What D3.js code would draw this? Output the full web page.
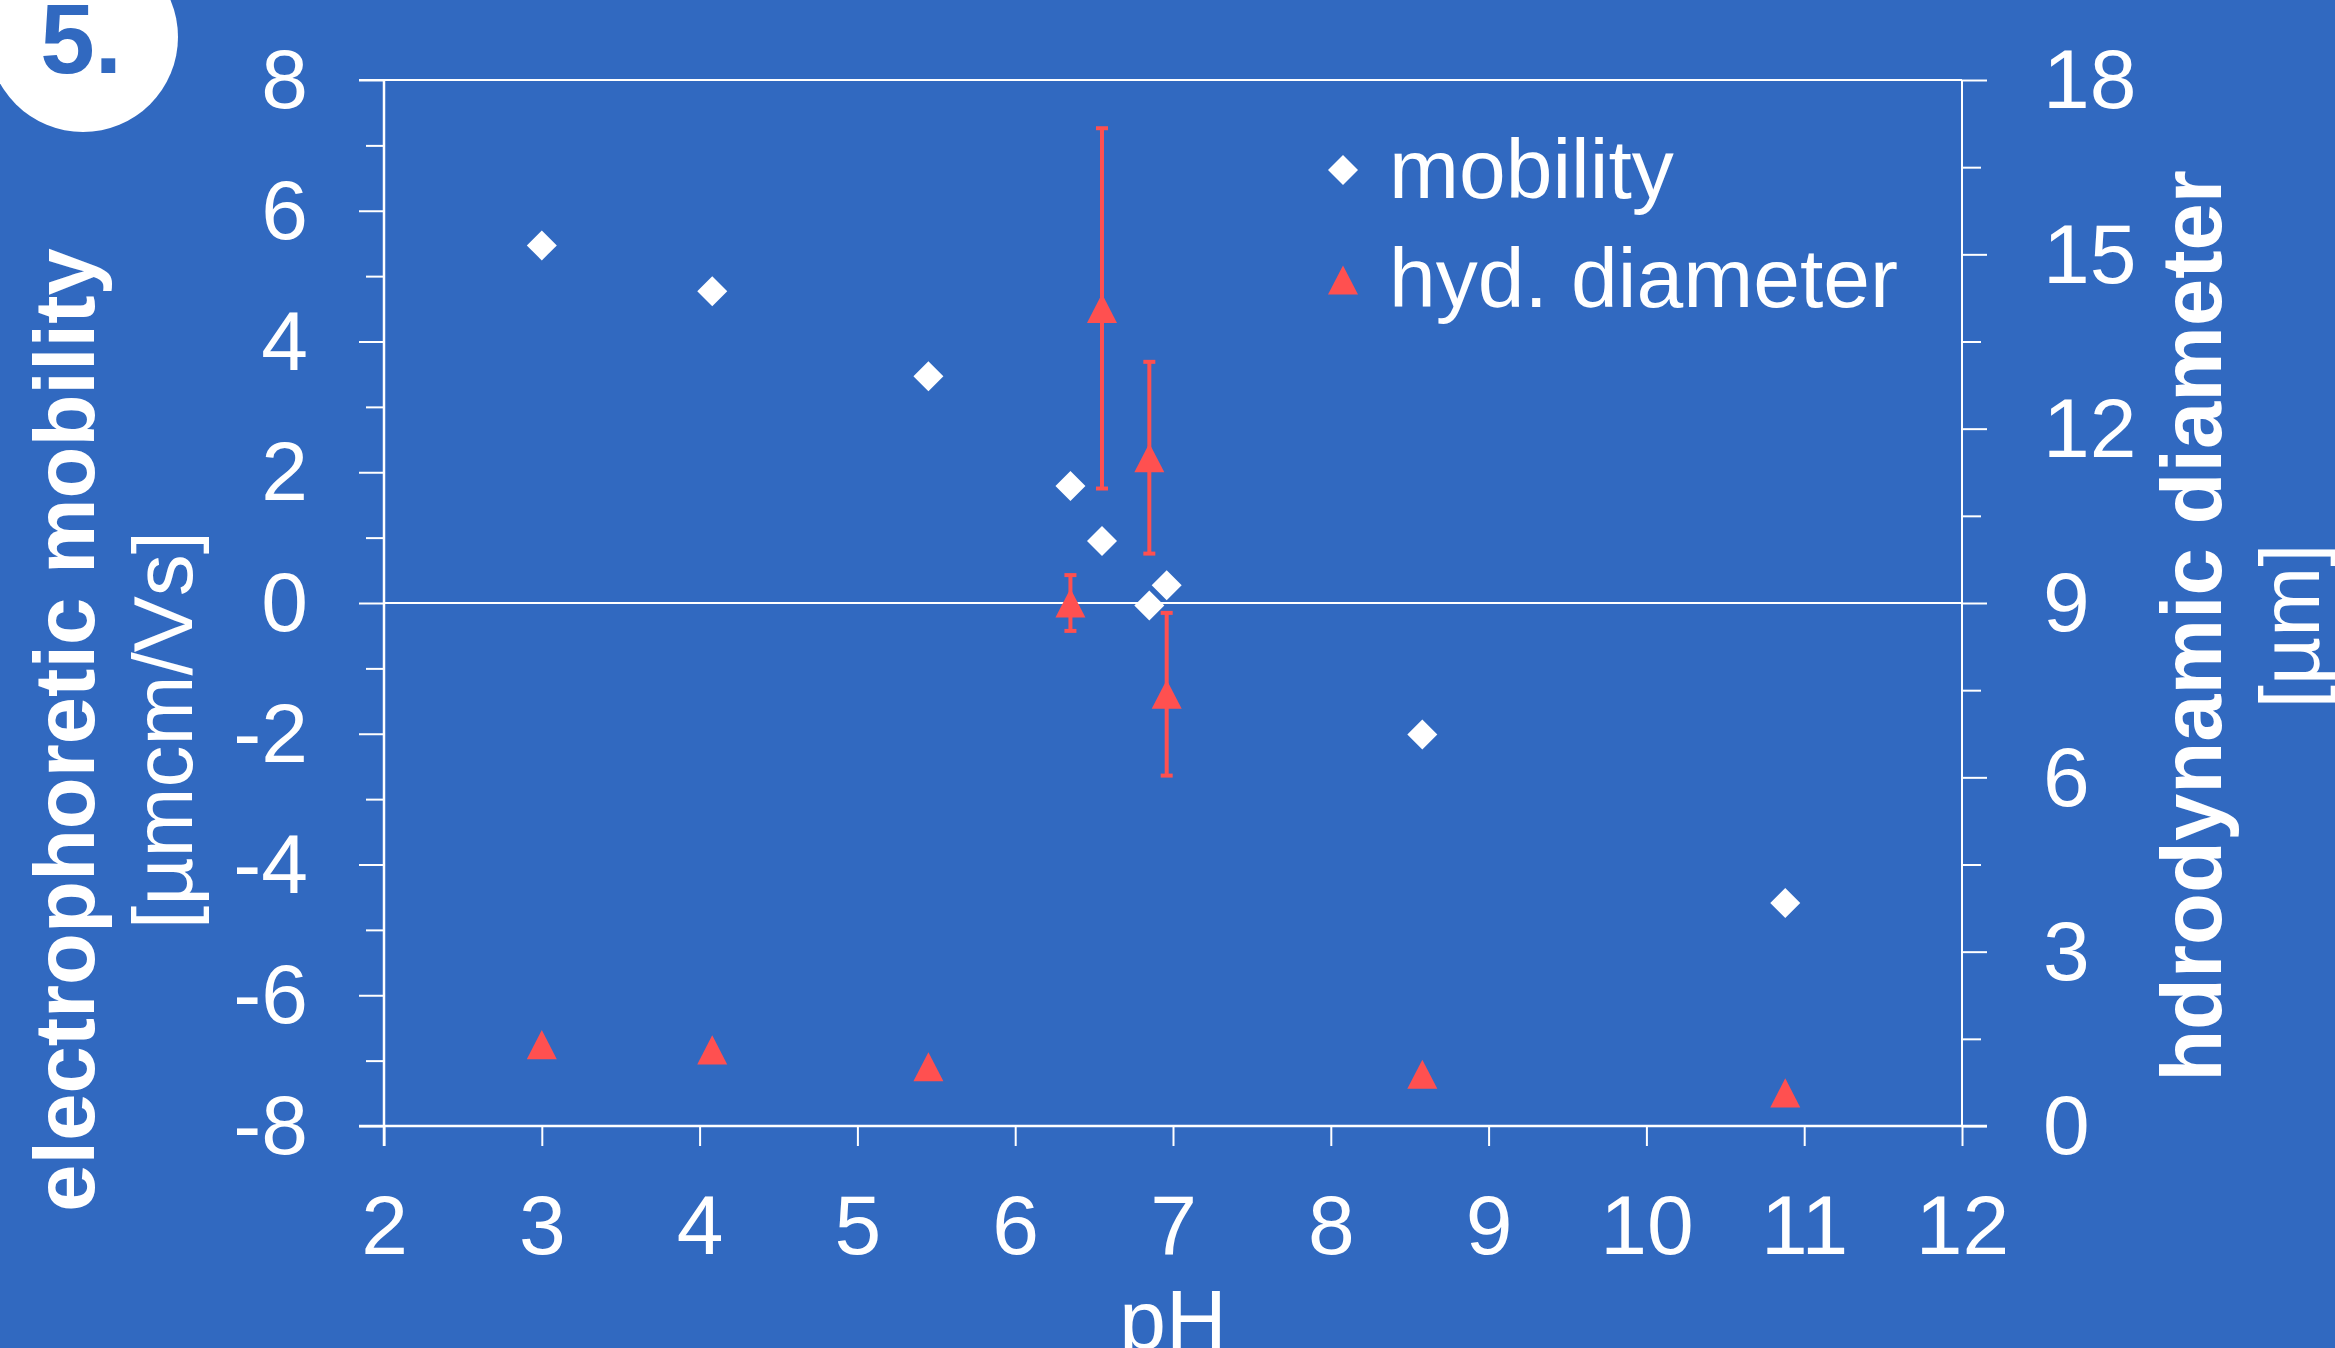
<!DOCTYPE html>
<html><head><meta charset="utf-8">
<script src="https://cdn.jsdelivr.net/npm/d3@7"></script>
<style>html,body{margin:0;padding:0;background:#3169C0;}svg{display:block;}</style>
</head><body>
<svg id="chart" width="2335" height="1348"></svg>
<script>
// ---- data ----
const pH = [3.0, 4.08, 5.45, 6.35, 6.55, 6.85, 6.96, 8.58, 10.88];
const mobility = [5.47, 4.77, 3.47, 1.79, 0.95, -0.04, 0.27, -2.01, -4.59];
const hydDiameter = [1.4, 1.31, 1.02, 9.0, 14.07, 11.5, 7.43, 0.89, 0.57];
const hydError = [0, 0, 0, 0.48, 3.1, 1.65, 1.4, 0, 0];
const xTicks = [2, 3, 4, 5, 6, 7, 8, 9, 10, 11, 12];
const yLeftTicks = [-8, -6, -4, -2, 0, 2, 4, 6, 8];
const yRightTicks = [0, 3, 6, 9, 12, 15, 18];
const seriesNames = ["mobility", "hyd. diameter"];

const BG = "#3169C0", RED = "#FF5050", WHITE = "#FFFFFF";
const FONT = "'Liberation Sans', Arial, sans-serif";

const svg = d3.select("#chart");
svg.append("rect").attr("width", 2335).attr("height", 1348).attr("fill", BG);

const L = 384, R = 1962, T = 80, B = 1126;
const x = d3.scaleLinear().domain([2, 12]).range([L, R]);
const yL = d3.scaleLinear().domain([-8, 8]).range([B, T]);
const yR = d3.scaleLinear().domain([0, 18]).range([B, T]);

// ---- axes ----
const axX = d3.axisBottom(x).tickValues(xTicks).tickSize(20).tickPadding(48).tickFormat(d3.format("d"));
const gX = svg.append("g").attr("transform", `translate(0,${B})`).call(axX);

const minorL = d3.range(-7, 8, 2);
const axL = d3.axisLeft(yL).tickValues(yLeftTicks).tickSize(25).tickPadding(51).tickFormat(d => String(d));
const gL = svg.append("g").attr("transform", `translate(${L},0)`).call(axL);
const axLm = d3.axisLeft(yL).tickValues(minorL).tickSize(18).tickFormat("");
const gLm = svg.append("g").attr("transform", `translate(${L},0)`).call(axLm);

const minorR = d3.range(1.5, 18, 3);
const axR = d3.axisRight(yR).tickValues(yRightTicks).tickSize(25).tickPadding(56).tickFormat(d3.format("d"));
const gR = svg.append("g").attr("transform", `translate(${R},0)`).call(axR);
const axRm = d3.axisRight(yR).tickValues(minorR).tickSize(19).tickFormat("");
const gRm = svg.append("g").attr("transform", `translate(${R},0)`).call(axRm);

[gX, gL, gLm, gR, gRm].forEach(g => {
  g.select(".domain").remove();
  g.selectAll(".tick line").attr("stroke", WHITE).attr("stroke-width", 2);
  g.selectAll(".tick text").attr("fill", WHITE).attr("font-family", FONT).attr("font-size", 84);
});
gX.selectAll(".tick text").attr("dy", "0.71em");
gL.selectAll(".tick text").attr("dy", "0.33em");
gR.selectAll(".tick text").attr("dy", "0.33em");

// frame lines: left, right, top, bottom
svg.append("line").attr("x1", L).attr("x2", L).attr("y1", T).attr("y2", B + 20).attr("stroke", WHITE).attr("stroke-width", 2.5);
svg.append("line").attr("x1", R).attr("x2", R).attr("y1", T).attr("y2", B).attr("stroke", WHITE).attr("stroke-width", 2);
svg.append("line").attr("x1", L - 25).attr("x2", R).attr("y1", T).attr("y2", T).attr("stroke", WHITE).attr("stroke-width", 2);
svg.append("line").attr("x1", L - 25).attr("x2", R + 25).attr("y1", B).attr("y2", B).attr("stroke", WHITE).attr("stroke-width", 2.5);
// zero line
svg.append("line").attr("x1", L).attr("x2", R).attr("y1", yL(0)).attr("y2", yL(0)).attr("stroke", WHITE).attr("stroke-width", 2);

// ---- marker shapes ----
const diamondType = { draw(ctx, size) { const h = Math.sqrt(size) / 2; ctx.moveTo(0, -h); ctx.lineTo(h, 0); ctx.lineTo(0, h); ctx.lineTo(-h, 0); ctx.closePath(); } };
const triangleType = { draw(ctx, size) { const h = Math.sqrt(size) / 2; ctx.moveTo(0, -h * 0.97); ctx.lineTo(h, h * 0.97); ctx.lineTo(-h, h * 0.97); ctx.closePath(); } };
const diamondPath = d3.symbol().type(diamondType).size(30 * 30)();
const trianglePath = d3.symbol().type(triangleType).size(30 * 30)();

// ---- error bars ----
const hyd = pH.map((p, i) => ({ p, d: hydDiameter[i], e: hydError[i] })).filter(o => o.e > 0);
const gE = svg.append("g").attr("stroke", RED).attr("stroke-width", 4);
hyd.forEach(o => {
  gE.append("line").attr("x1", x(o.p)).attr("x2", x(o.p)).attr("y1", yR(o.d - o.e)).attr("y2", yR(o.d + o.e));
  [o.d - o.e, o.d + o.e].forEach(v => gE.append("line").attr("x1", x(o.p) - 6).attr("x2", x(o.p) + 6).attr("y1", yR(v)).attr("y2", yR(v)));
});

// ---- points ----
svg.append("g").selectAll("path").data(pH).join("path")
  .attr("d", trianglePath).attr("fill", RED)
  .attr("transform", (p, i) => `translate(${x(p)},${yR(hydDiameter[i])})`);
svg.append("g").selectAll("path").data(pH).join("path")
  .attr("d", diamondPath).attr("fill", WHITE)
  .attr("transform", (p, i) => `translate(${x(p)},${yL(mobility[i])})`);

// ---- legend ----
const lg = svg.append("g");
lg.append("path").attr("d", diamondPath).attr("fill", WHITE).attr("transform", "translate(1343,170)");
lg.append("path").attr("d", trianglePath).attr("fill", RED).attr("transform", "translate(1343,280)");
lg.selectAll("text").data(seriesNames).join("text")
  .attr("x", 1389).attr("y", (d, i) => 198 + i * 109)
  .attr("fill", WHITE).attr("font-family", FONT).attr("font-size", 84).text(d => d);

// ---- axis titles ----
svg.append("text").attr("transform", "translate(94,730) rotate(-90)").attr("text-anchor", "middle")
  .attr("fill", WHITE).attr("font-family", FONT).attr("font-weight", "bold").attr("font-size", 85)
  .text("electrophoretic mobility");
svg.append("text").attr("transform", "translate(192,730) rotate(-90)").attr("text-anchor", "middle")
  .attr("fill", WHITE).attr("font-family", FONT).attr("font-size", 84)
  .text("[µmcm/Vs]");
svg.append("text").attr("transform", "translate(2221,626) rotate(-90)").attr("text-anchor", "middle")
  .attr("fill", WHITE).attr("font-family", FONT).attr("font-weight", "bold").attr("font-size", 85)
  .text("hdrodynamic diameter");
svg.append("text").attr("transform", "translate(2319,626) rotate(-90)").attr("text-anchor", "middle")
  .attr("fill", WHITE).attr("font-family", FONT).attr("font-size", 84)
  .text("[µm]");
svg.append("text").attr("x", (L + R) / 2).attr("y", 1349).attr("text-anchor", "middle")
  .attr("fill", WHITE).attr("font-family", FONT).attr("font-size", 84).text("pH");

// ---- badge ----
svg.append("circle").attr("cx", 83).attr("cy", 37).attr("r", 95).attr("fill", WHITE);
svg.append("text").attr("x", 81).attr("y", 73).attr("text-anchor", "middle")
  .attr("fill", BG).attr("font-family", FONT).attr("font-weight", "bold").attr("font-size", 98).text("5.");
</script>
</body></html>
